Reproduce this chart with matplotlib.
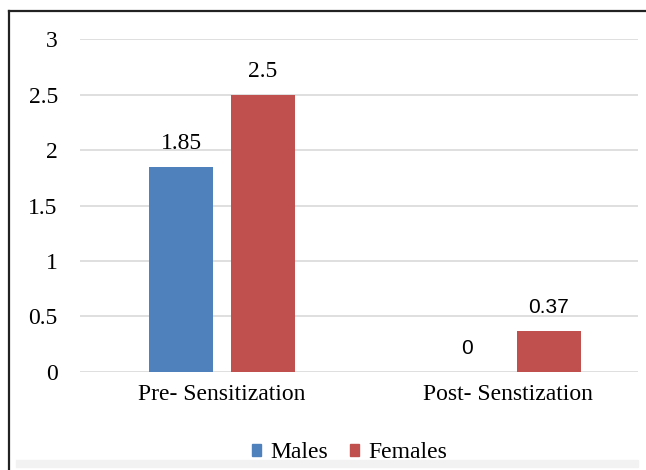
import matplotlib.pyplot as plt
import matplotlib.patches as mpatches
from matplotlib.lines import Line2D

categories = ['Pre- Sensitization', 'Post- Senstization']
males = [1.85, 0]
females = [2.5, 0.37]
series_names = ['Males', 'Females']
yticks = [0, 0.5, 1, 1.5, 2, 2.5, 3]
ytick_labels = ['0', '0.5', '1', '1.5', '2', '2.5', '3']

BLUE = '#4f81bd'
RED = '#c0504d'
SERIF = 'Liberation Serif'
SANS = 'Liberation Sans'

plt.rcParams['font.family'] = SERIF
plt.rcParams['font.size'] = 17

W, H = 646, 470
fig = plt.figure(figsize=(W / 100, H / 100), dpi=100)
ax = fig.add_axes([80 / W, (H - 371.7) / H, (638 - 80) / W, (371.7 - 39.3) / H])

x = [0, 1]
width = 0.225
off = 0.143
ax.bar([i - off for i in x], males, width, color=BLUE, zorder=3)
ax.bar([i + off for i in x], females, width, color=RED, zorder=3)

ax.set_xlim(-0.497, 1.455)
ax.set_ylim(0, 3)
ax.set_yticks(yticks)
ax.set_yticklabels(ytick_labels)
ax.set_xticks(x)
ax.set_xticklabels(categories)
ax.tick_params(axis='y', length=0, pad=16, labelsize=17)
ax.tick_params(axis='x', length=0, pad=9, labelsize=17)
ax.grid(axis='y', color='#d9d9d9', linewidth=1.2, zorder=0)
for s in ax.spines.values():
    s.set_visible(False)

# data labels: first group in serif, second in sans (as in the original)
for i, (m, f) in enumerate(zip(males, females)):
    fam = SERIF if i == 0 else SANS
    fs = 17 if i == 0 else 15
    for xv, v in ((i - off, m), (i + off, f)):
        ax.annotate(f'{v:g}', (xv, v), xytext=(0, 13), textcoords='offset points',
                    ha='center', va='baseline', family=fam, fontsize=fs)

# bottom light band
fig.patches.append(mpatches.Rectangle((16 / W, (H - 467) / H), (638 - 16) / W, 7 / H,
                                      transform=fig.transFigure, color='#f2f2f2', zorder=0))

handles = [mpatches.Patch(color=BLUE), mpatches.Patch(color=RED)]
fig.legend(handles, series_names, loc='center', bbox_to_anchor=(349.5 / W, 17 / H),
           ncol=2, frameon=False, prop={'family': SERIF, 'size': 17},
           handlelength=0.4, handleheight=0.4, handletextpad=0.4, columnspacing=0.9)

# frame lines (left and top)
fig.add_artist(Line2D([8.5 / W, 8.5 / W], [0, (H - 11) / H], transform=fig.transFigure,
                      color='#222222', linewidth=1.6))
fig.add_artist(Line2D([8.5 / W, 1], [(H - 11) / H, (H - 11) / H], transform=fig.transFigure,
                      color='#222222', linewidth=1.6))

fig.savefig('out.png', dpi=100)
